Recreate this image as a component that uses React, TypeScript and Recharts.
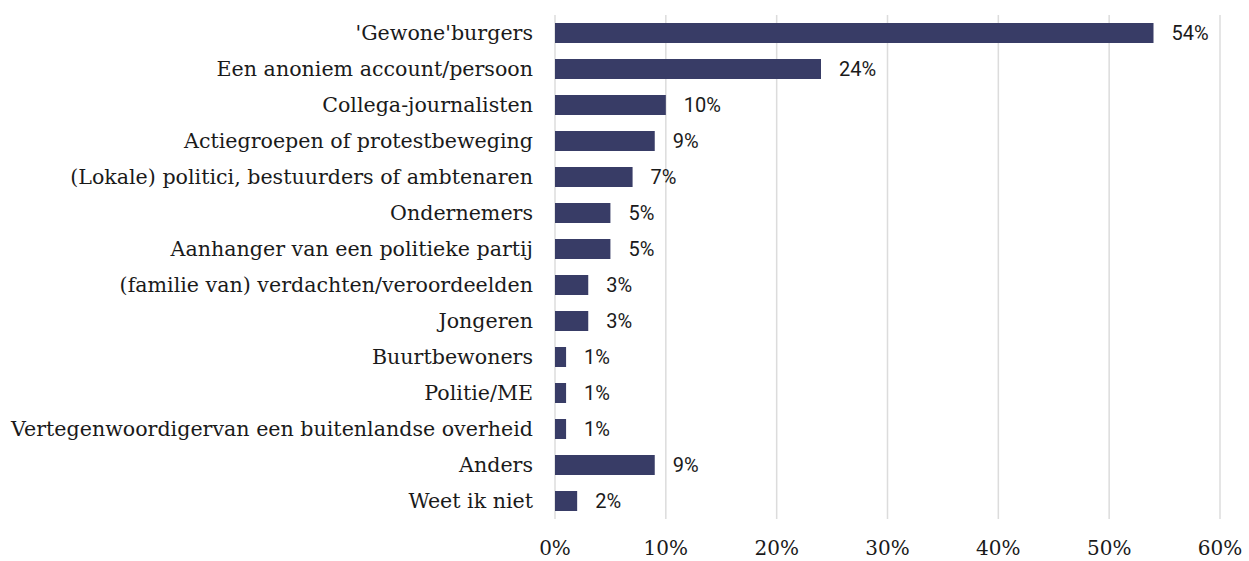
import { BarChart, Bar, XAxis, YAxis, CartesianGrid, LabelList } from "recharts";

// ── Data ───────────────────────────────────────────────────────────────────

const categories = [
  "'Gewone'burgers",
  "Een anoniem account/persoon",
  "Collega-journalisten",
  "Actiegroepen of protestbeweging",
  "(Lokale) politici, bestuurders of ambtenaren",
  "Ondernemers",
  "Aanhanger van een politieke partij",
  "(familie van) verdachten/veroordeelden",
  "Jongeren",
  "Buurtbewoners",
  "Politie/ME",
  "Vertegenwoordigervan een buitenlandse overheid",
  "Anders",
  "Weet ik niet",
];

const shares = [54, 24, 10, 9, 7, 5, 5, 3, 3, 1, 1, 1, 9, 2];

const xTicks = [0, 10, 20, 30, 40, 50, 60];

const data = categories.map((name, i) => ({ name, value: shares[i] }));

// ── Styles ─────────────────────────────────────────────────────────────────

const BAR_COLOR = "#383c66";
const GRID_COLOR = "#dcdcdc";

if (typeof document !== "undefined") {
  document.body.style.margin = "0";
}

export default function App() {
  return (
    <div style={{ width: 1249, height: 561, background: "#fff" }}>
      <BarChart
        width={1249}
        height={561}
        data={data}
        layout="vertical"
        margin={{ top: 15, right: 29, left: 0, bottom: 0 }}
        barSize={20}
      >
        <CartesianGrid stroke={GRID_COLOR} strokeWidth={1.5} horizontal={false} />
        <XAxis
          type="number"
          domain={[0, 60]}
          ticks={xTicks}
          tickFormatter={(v: number) => `${v}%`}
          axisLine={false}
          tickLine={false}
          tickMargin={16}
          height={42}
          tick={{ fontSize: 20, fill: "#1a1a1a", fontFamily: "DejaVu Serif" }}
          interval={0}
        />
        <YAxis
          type="category"
          dataKey="name"
          width={555}
          axisLine={false}
          tickLine={false}
          tickMargin={16}
          interval={0}
          tick={{ fontSize: 20.6, fill: "#1a1a1a", fontFamily: "DejaVu Serif" }}
        />
        <Bar dataKey="value" fill={BAR_COLOR} isAnimationActive={false}>
          <LabelList
            dataKey="value"
            position="right"
            offset={18}
            formatter={(v: number) => `${v}%`}
            style={{ fontSize: 20, fill: "#1a1a1a", fontFamily: "Roboto" }}
          />
        </Bar>
      </BarChart>
    </div>
  );
}
